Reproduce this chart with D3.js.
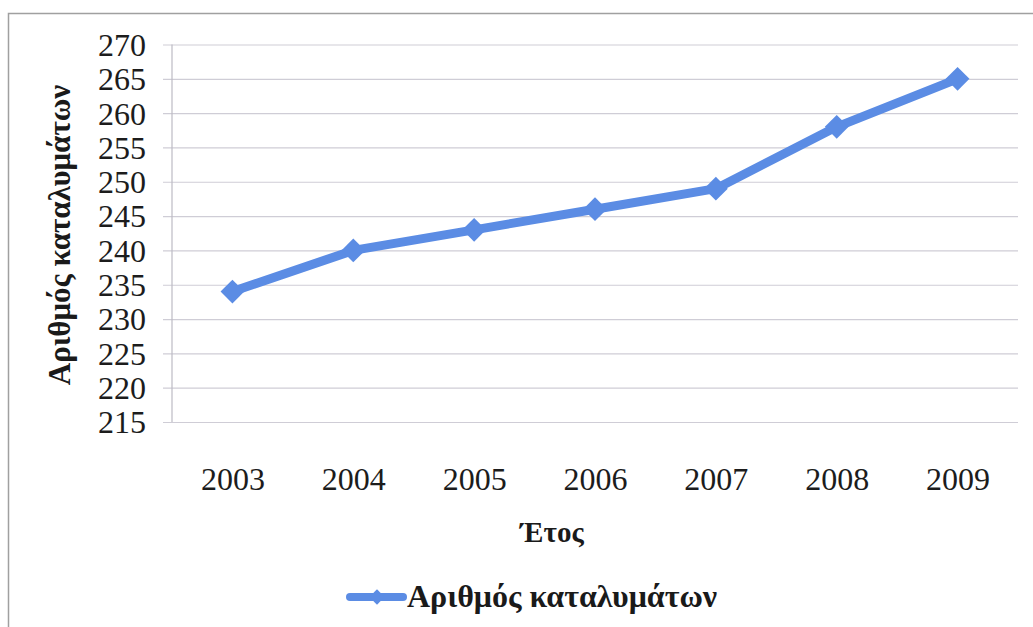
<!DOCTYPE html>
<html>
<head>
<meta charset="utf-8">
<script src="https://cdn.jsdelivr.net/npm/d3@7/dist/d3.min.js"></script>
<style>
  html, body { margin: 0; padding: 0; background: #ffffff; }
  svg { display: block; }
  svg text { font-family: "Liberation Serif", "Times New Roman", "DejaVu Serif", serif; }
</style>
</head>
<body>
<svg id="chart" width="1033" height="627"></svg>
<script>
// ---- data ----
const years = ["2003", "2004", "2005", "2006", "2007", "2008", "2009"];
const accommodations = [234, 240, 243, 246, 249, 258, 265];
const yTicks = [215, 220, 225, 230, 235, 240, 245, 250, 255, 260, 265, 270];
const seriesName = "Αριθμός καταλυμάτων";
const xTitle = "Έτος";
const yTitle = "Αριθμός καταλυμάτων";

// ---- layout ----
const svg = d3.select("#chart");
const plot = { left: 172, right: 1018, top: 44.5, bottom: 422 };
const lineColor = "#5B8CE4";
const gridColor = "#cfcdd6";
const serif = "Liberation Serif, Times New Roman, DejaVu Serif, serif";

// outer frame
svg.append("rect")
  .attr("x", 8.5).attr("y", 13.5)
  .attr("width", 1100).attr("height", 700)
  .attr("fill", "none").attr("stroke", "#a0a0a0").attr("stroke-width", 1.5);

const x = d3.scalePoint().domain(years).range([plot.left, plot.right]).padding(0.5);
const y = d3.scaleLinear().domain([215, 270]).range([plot.bottom, plot.top]);

// gridlines + y axis
const yAxis = d3.axisLeft(y)
  .tickValues(yTicks)
  .tickSize(-(plot.right - plot.left))
  .tickSizeOuter(0)
  .tickPadding(26)
  .tickFormat(d3.format("d"));

const gy = svg.append("g")
  .attr("transform", `translate(${plot.left},0)`)
  .call(yAxis)
  .attr("font-family", null);
gy.select(".domain").remove();
gy.selectAll(".tick line")
  .attr("x1", -9)
  .attr("stroke", gridColor).attr("stroke-width", 1.2);
gy.selectAll(".tick text")
  .style("font-family", serif).style("font-size", "32px").attr("fill", "#1c1c1c")
  .attr("dy", "0.34em");

// left axis line
svg.append("line")
  .attr("x1", plot.left).attr("x2", plot.left)
  .attr("y1", plot.top).attr("y2", plot.bottom)
  .attr("stroke", "#bdbbc4").attr("stroke-width", 1.2);

// x axis labels
const xAxis = d3.axisBottom(x).tickSize(0).tickPadding(45);
const gx = svg.append("g")
  .attr("transform", `translate(0,${plot.bottom})`)
  .call(xAxis)
  .attr("font-family", null);
gx.select(".domain").remove();
gx.selectAll(".tick text")
  .style("font-family", serif).style("font-size", "32px").attr("fill", "#1c1c1c");

// line
const pts = years.map((yr, i) => ({ yr, v: accommodations[i] }));
svg.append("path")
  .datum(pts)
  .attr("fill", "none")
  .attr("stroke", lineColor)
  .attr("stroke-width", 9)
  .attr("stroke-linejoin", "round")
  .attr("stroke-linecap", "round")
  .attr("d", d3.line().x(d => x(d.yr)).y(d => y(d.v)));

// markers
const diamond = d3.symbol().type(d3.symbolDiamond2).size(360);
svg.selectAll(".marker")
  .data(pts).enter().append("path")
  .attr("class", "marker")
  .attr("d", diamond)
  .attr("transform", d => `translate(${x(d.yr)},${y(d.v)})`)
  .attr("fill", lineColor);

// axis titles
svg.append("text")
  .attr("x", 552).attr("y", 542)
  .attr("text-anchor", "middle")
  .style("font-family", serif).style("font-weight", "bold").style("font-size", "29px")
  .attr("fill", "#1a1a1a")
  .text(xTitle);

svg.append("text")
  .attr("transform", "translate(70,235) rotate(-90)")
  .attr("text-anchor", "middle")
  .style("font-family", serif).style("font-weight", "bold").style("font-size", "31px")
  .attr("fill", "#1a1a1a")
  .text(yTitle);

// legend
const lg = svg.append("g").attr("transform", "translate(350,597)");
lg.append("line")
  .attr("x1", 0).attr("x2", 53).attr("y1", 0).attr("y2", 0)
  .attr("stroke", lineColor).attr("stroke-width", 8).attr("stroke-linecap", "round");
lg.append("path")
  .attr("d", d3.symbol().type(d3.symbolDiamond2).size(150))
  .attr("transform", "translate(27,0)")
  .attr("fill", lineColor);
lg.append("text")
  .attr("x", 57).attr("y", 10)
  .style("font-family", serif).style("font-weight", "bold").style("font-size", "32px")
  .attr("fill", "#1a1a1a")
  .text(seriesName);
</script>
</body>
</html>
